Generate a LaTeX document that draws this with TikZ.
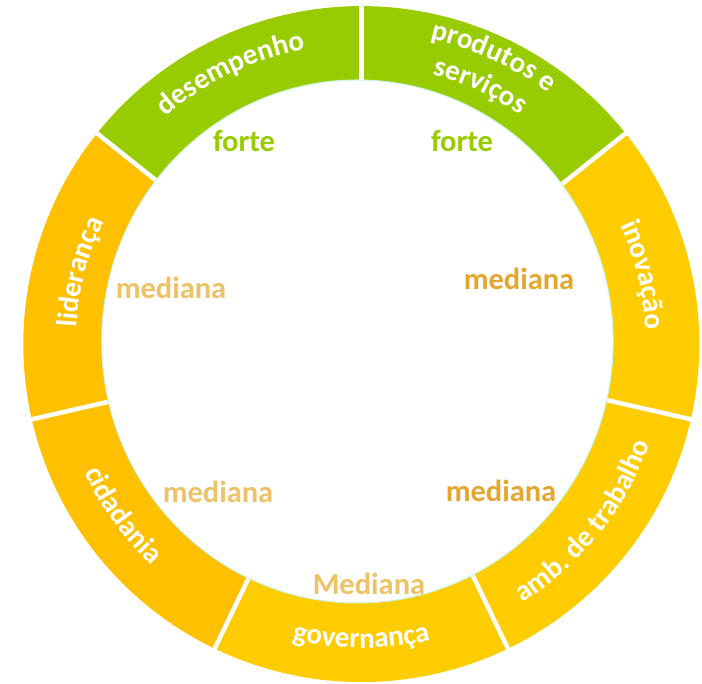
\documentclass[tikz,border=0pt]{standalone}
\usepackage{fontspec}
\setmainfont{Carlito}
\usetikzlibrary{calc,decorations.text}
\definecolor{grn}{HTML}{99CC00}
\definecolor{orgA}{HTML}{FFC000}
\definecolor{orgB}{HTML}{FFCC00}
\definecolor{medL}{HTML}{EEC266}
\definecolor{medD}{HTML}{E5A630}
\definecolor{mint}{HTML}{C8F5E4}
\newcommand{\labfont}{\fontsize{29}{30}\selectfont\bfseries}
\newcommand{\inFont}{\fontsize{30.5}{32}\selectfont\bfseries}
\tikzset{
  arclab/.style={decorate, decoration={text along path, text color=white,
      text={|\labfont|#1}, text align=center}},
  inlab/.style={font=\inFont, anchor=base, inner sep=0pt},
  sep/.style={white, line width=4.5pt}
}
\begin{document}
\begin{tikzpicture}[x=1pt,y=1pt]
\useasboundingbox (0,0) rectangle (702,684);
\coordinate (C) at (361.3,339.9);
\def\R{338}
% sectors
\foreach \a/\b/\col in {141.429/90/grn, 90/38.571/grn, 38.571/-12.857/orgB,
   -12.857/-64.286/orgB, -64.286/-115.714/orgB, -115.714/-167.143/orgA,
   -167.143/-218.571/orgA}
  \fill[\col] (C) -- ($(C)+(\a:\R)$) arc[start angle=\a, end angle=\b, radius=\R] -- cycle;
% separators
\foreach \a in {90,38.571,-12.857,-64.286,-115.714,-167.143,141.429}
  \draw[sep] (C) -- ($(C)+(\a:\R+10)$);
% inner hole
\filldraw[fill=white, draw=mint, line width=1pt] (357.4,342.5) ellipse [x radius=255.7, y radius=261.5];
% ring labels
\path[arclab=desempenho] ($(C)+(141.429:300)$) arc[start angle=141.429, end angle=90, radius=300];
\path[arclab={produtos e}] ($(C)+(91:313)$) arc[start angle=91, end angle=39.6, radius=313];
\path[arclab={serviços}] ($(C)+(91:279)$) arc[start angle=91, end angle=39.6, radius=279];
\path[arclab={inovação}] ($(C)+(39.5:285)$) arc[start angle=39.5, end angle=-11.9, radius=285];
\path[arclab={amb. de trabalho}] ($(C)+(-64.286:305)$) arc[start angle=-64.286, end angle=-12.857, radius=305];
\path[arclab={governança}] ($(C)+(-115.714:304)$) arc[start angle=-115.714, end angle=-64.286, radius=304];
\path[arclab={cidadania}] ($(C)+(-170:305)$) arc[start angle=-170, end angle=-118.6, radius=305];
\path[arclab={liderança}] ($(C)+(191.3:285)$) arc[start angle=191.3, end angle=139.9, radius=285];
% inner labels
\node[inlab, text=grn] (f1) at (244,532) {forte};
\node[inlab, text=grn] (f2) at (462,532) {forte};
\node[inlab, text=medL] (m1) at (171,385) {mediana};
\node[inlab, text=medD] (m2) at (519,394) {mediana};
\node[inlab, text=medL] (m3) at (218,181) {mediana};
\node[inlab, text=medD] (m4) at (501,182) {mediana};
\node[inlab, text=medL] (m5) at (369,89) {Mediana};
\end{tikzpicture}
\end{document}
